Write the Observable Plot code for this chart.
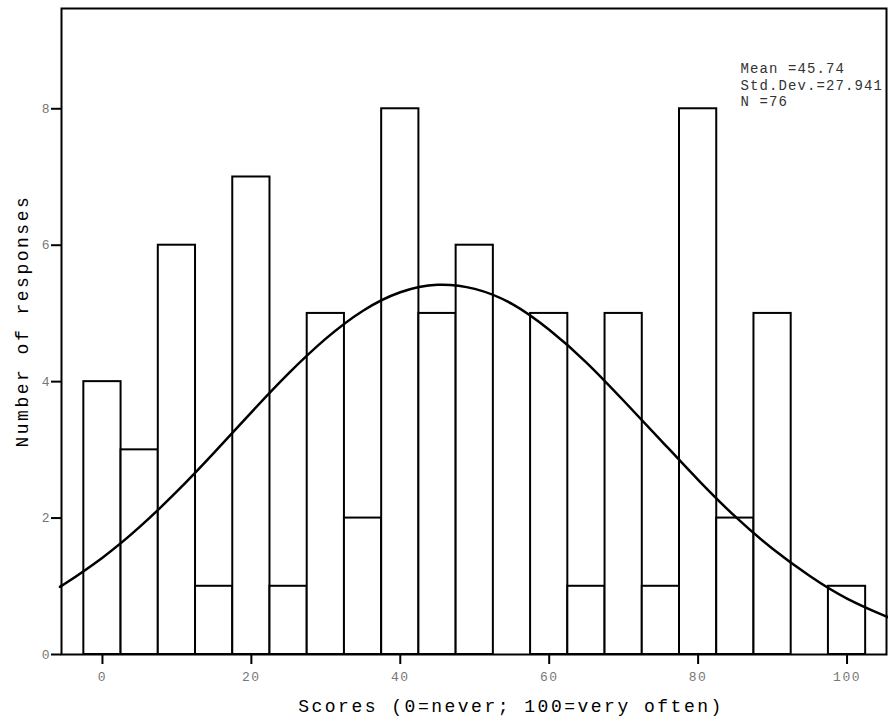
<!DOCTYPE html>
<html><head><meta charset="utf-8">
<script src="https://cdn.jsdelivr.net/npm/d3@7"></script>
<script src="https://cdn.jsdelivr.net/npm/@observablehq/plot@0.6"></script>
<style>
body{margin:0;background:#fff;}
#chart svg{display:block;background:#fff;}
g[aria-label="x-axis tick label"]{fill:#777;letter-spacing:1.5px;}
g[aria-label="y-axis tick label"]{fill:#777;}
g[aria-description="stats"] text{letter-spacing:1.1px;}
g[aria-description="axis-title"] text{letter-spacing:2.5px;}
</style></head><body><div id="chart"></div><script>
const binCenters = [0,5,10,15,20,25,30,35,40,45,50,55,60,65,70,75,80,85,90,95,100];
const counts     = [4,3,6,1,7,1,5,2,8,5,6,0,5,1,5,1,8,2,5,0,1];
const curveX = [-5.5,-5,0,5,10,15,20,25,30,35,40,45,50,55,60,65,70,75,80,85,90,95,100,105,105.3];
const curveY = [1.01,1.04,1.42,1.87,2.39,2.96,3.55,4.12,4.63,5.04,5.31,5.42,5.36,5.14,4.76,4.28,3.72,3.14,2.56,2.02,1.55,1.15,0.82,0.57,0.56];
const xTicks = [0,20,40,60,80,100];
const yTicks = [0,2,4,6,8];
const statsLines = ["Mean =45.74","Std.Dev.=27.941","N =76"];
const xTitle = "Scores (0=never; 100=very often)";
const yTitle = "Number of responses";
const binWidth = 5;

const bins = binCenters.map((c,i)=>({x1:c-binWidth/2,x2:c+binWidth/2,y:counts[i]})).filter(d=>d.y>0);
const curve = curveX.map((x,i)=>({x,y:curveY[i]}));
const mono = "'Liberation Mono','Courier New',monospace";

const chart = Plot.plot({
  width: 888, height: 725,
  marginLeft: 61, marginRight: 2, marginTop: 8, marginBottom: 71,
  style: {fontFamily: mono, background:"#fff"},
  x: {domain: [-5.5, 105.3]},
  y: {domain: [0, 9.47]},
  marks: [
    Plot.rectY(bins, {x1:"x1", x2:"x2", y:"y", fill:"white", stroke:"black", strokeWidth:2, inset:0}),
    Plot.line(curve, {x:"x", y:"y", curve:"natural", stroke:"black", strokeWidth:2.5}),
    Plot.frame({stroke:"black", strokeWidth:2}),
    Plot.axisX(xTicks, {tickSize:10, tickPadding:7, strokeWidth:2, fontSize:13, tickFormat:d=>String(d), label:null}),
    Plot.axisY(yTicks, {tickSize:10, tickPadding:2, strokeWidth:2, fontSize:13, tickFormat:d=>String(d), label:null}),
    Plot.text([statsLines.join("\n")], {frameAnchor:"top-right", dx:-146, dy:53.5, textAnchor:"start", lineAnchor:"top", lineHeight:1.15, fontSize:14, fill:"#333", ariaDescription:"stats"}),
    Plot.text([xTitle], {frameAnchor:"bottom", dx:37, dy:57, fontSize:18, fill:"black", ariaDescription:"axis-title"}),
    Plot.text([yTitle], {frameAnchor:"left", dx:-39, dy:116, rotate:-90, textAnchor:"start", fontSize:18, fill:"black", ariaDescription:"axis-title"})
  ]
});
document.getElementById("chart").appendChild(chart);
</script></body></html>
